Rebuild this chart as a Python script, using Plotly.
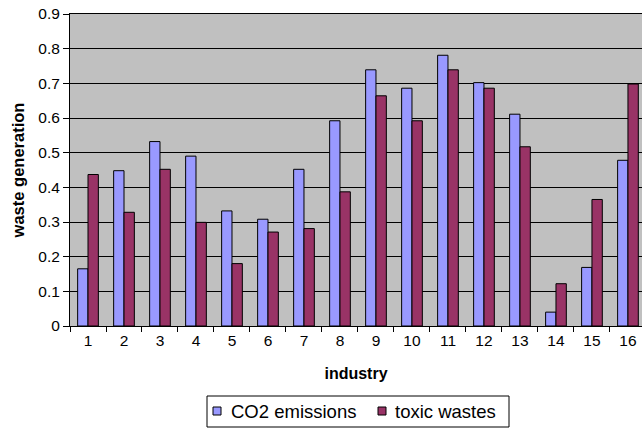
import plotly.graph_objects as go

# Waste generation by industry
industries = [str(i) for i in range(1, 17)]
co2_emissions = [0.165, 0.448, 0.532, 0.490, 0.332, 0.308, 0.452, 0.592,
                 0.739, 0.686, 0.781, 0.702, 0.611, 0.040, 0.169, 0.478]
toxic_wastes = [0.437, 0.328, 0.452, 0.299, 0.180, 0.271, 0.281, 0.387,
                0.664, 0.592, 0.739, 0.686, 0.517, 0.122, 0.365, 0.698]
series_names = ["CO2 emissions", "toxic wastes"]
y_ticks = [round(0.1 * i, 1) for i in range(10)]

BLUE = "#9999FF"
MAROON = "#993366"
FONT = "Arial, Liberation Sans, sans-serif"

W, H = 642, 428
L, R, T, B = 70, 0, 14, 102
PW, PH = W - L - R, H - T - B


def px_to_paper(x, y):
    return (x - L) / PW, (H - B - y) / PH


fig = go.Figure()
for name, vals, col in zip(series_names, [co2_emissions, toxic_wastes], [BLUE, MAROON]):
    fig.add_trace(go.Bar(
        x=industries, y=vals, name=name, showlegend=False,
        marker=dict(color=col, line=dict(color="black", width=1)),
    ))

# Legend box drawn below the axis title
shapes = []
annotations = []
bx0, by0 = px_to_paper(207, 396)
bx1, by1 = px_to_paper(509, 427)
shapes.append(dict(type="rect", xref="paper", yref="paper", x0=bx0, x1=bx1,
                   y0=by1, y1=by0, line=dict(color="black", width=1),
                   fillcolor="white", layer="above"))
for (sx, tx), name, col in zip([(213, 229), (378, 393)], series_names, [BLUE, MAROON]):
    sx0, sy0 = px_to_paper(sx, 407)
    sx1, sy1 = px_to_paper(sx + 8, 415)
    shapes.append(dict(type="rect", xref="paper", yref="paper", x0=sx0, x1=sx1,
                       y0=sy1, y1=sy0, line=dict(color="black", width=1),
                       fillcolor=col, layer="above"))
    ax, ay = px_to_paper(tx, 411.5)
    annotations.append(dict(x=ax, y=ay, xref="paper", yref="paper", text=name,
                            showarrow=False, xanchor="left", yanchor="middle",
                            font=dict(family=FONT, size=18.5, color="black")))

fig.update_layout(
    width=W, height=H,
    margin=dict(l=L, r=R, t=T, b=B),
    paper_bgcolor="white", plot_bgcolor="#C0C0C0",
    font=dict(family=FONT, size=15, color="black"),
    barmode="group", bargap=0.425, bargroupgap=0,
    shapes=shapes, annotations=annotations,
    xaxis=dict(
        type="category", range=[-0.5, 15.39],
        tickson="boundaries", ticks="outside", ticklen=5, tickcolor="black",
        showline=True, linecolor="black", linewidth=1, mirror=True,
        showgrid=False,
        title=dict(text="<b>industry</b>", font=dict(size=16), standoff=20),
        tickfont=dict(size=15.5),
    ),
    yaxis=dict(
        range=[0, 0.9], tickvals=y_ticks, ticktext=[f"{v:g}" for v in y_ticks],
        ticks="outside", ticklen=6, tickcolor="black",
        showline=True, linecolor="black", linewidth=1,
        showgrid=True, gridcolor="black", gridwidth=1, zeroline=False,
        title=dict(text="<b>waste generation</b>", font=dict(size=16.5), standoff=9),
        tickfont=dict(size=15.5),
    ),
)

fig.write_html("out.html")
